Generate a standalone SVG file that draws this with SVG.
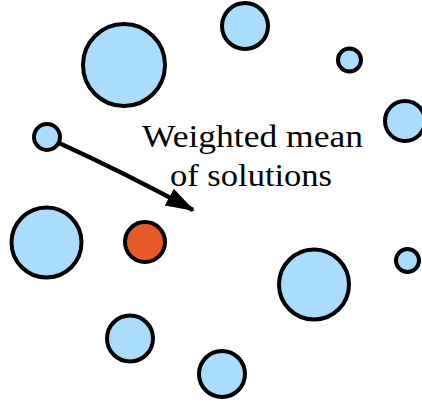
<svg xmlns="http://www.w3.org/2000/svg" width="422" height="404" viewBox="0 0 422 404">
<style>
.s{fill:#aadcfe;stroke:#000;stroke-width:4}
.o{fill:#e65a28;stroke:#000;stroke-width:4}
.t{font-family:"Liberation Serif","DejaVu Serif",serif;font-size:31px;fill:#000}
</style>
<defs>
<marker id="ah" markerWidth="30" markerHeight="22" refX="27" refY="11" orient="auto" markerUnits="userSpaceOnUse">
<path d="M0,1.5 L29,11 L0,20.5 Z" fill="#000"/>
</marker>
</defs>
<rect width="422" height="404" fill="#fff"/>
<g id="connectors">
<path d="M59,143 Q125,173 193,210" fill="none" stroke="#000" stroke-width="4.5" marker-end="url(#ah)"/>
</g>
<g id="n1"><circle class="s" cx="124" cy="65" r="41"/></g>
<g id="n2"><circle class="s" cx="245" cy="26" r="23"/></g>
<g id="n3"><circle class="s" cx="349.5" cy="60" r="11.5"/></g>
<g id="n4"><circle class="s" cx="405" cy="121" r="20"/></g>
<g id="n5"><circle class="s" cx="47" cy="137" r="13"/></g>
<g id="n6"><circle class="s" cx="46.5" cy="242.5" r="35"/></g>
<g id="n7"><circle class="o" cx="145" cy="242" r="20"/></g>
<g id="n8"><circle class="s" cx="314" cy="284.5" r="35"/></g>
<g id="n9"><circle class="s" cx="407.5" cy="260.5" r="11.5"/></g>
<g id="n10"><circle class="s" cx="130" cy="338.5" r="23"/></g>
<g id="n11"><circle class="s" cx="222" cy="374" r="23"/></g>
<g id="label">
<text class="t" x="142" y="147" textLength="221" lengthAdjust="spacingAndGlyphs">Weighted mean</text>
<text class="t" x="170" y="186" textLength="162" lengthAdjust="spacingAndGlyphs">of solutions</text>
</g>
</svg>
